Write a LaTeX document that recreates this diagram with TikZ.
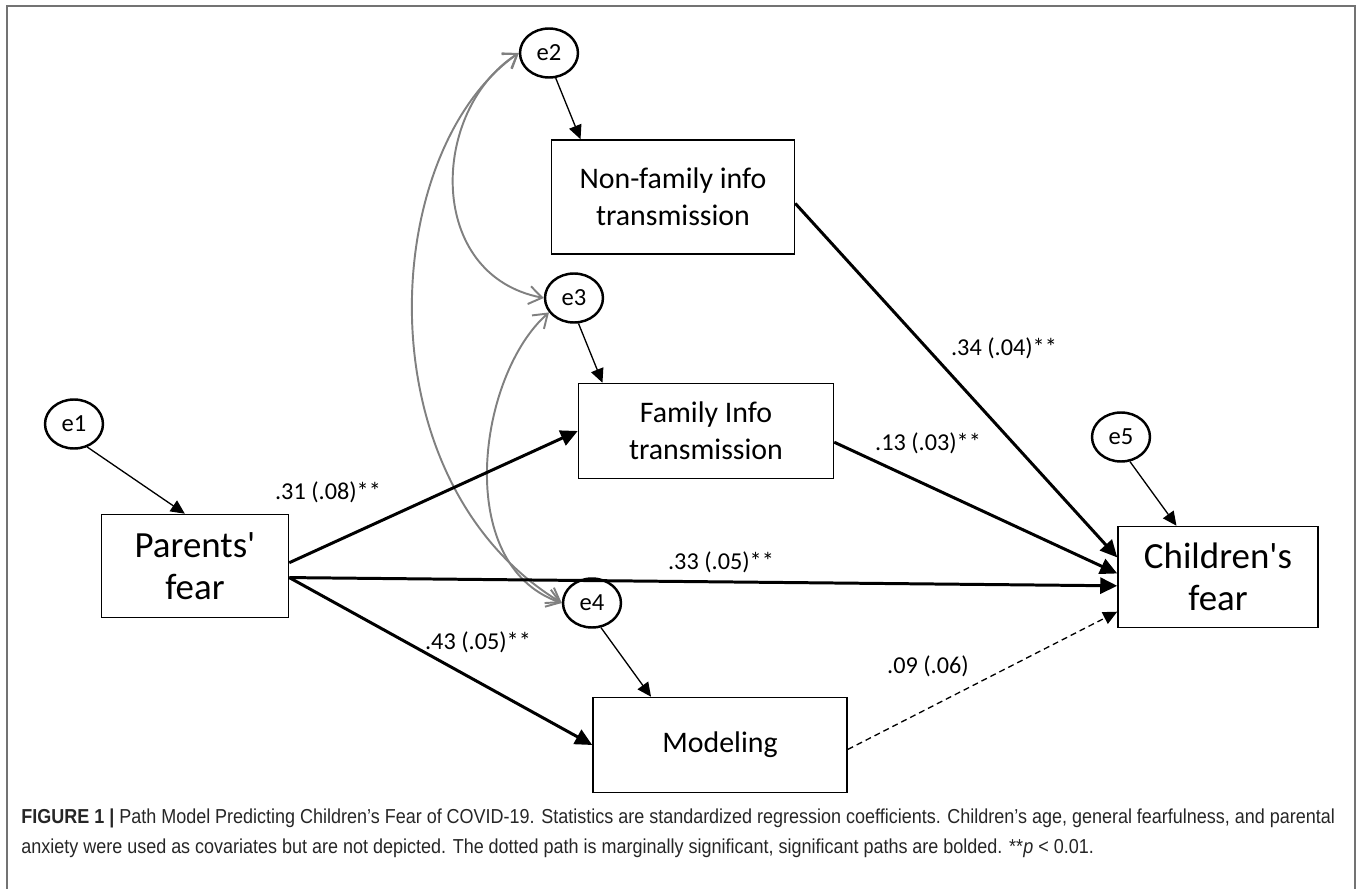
\documentclass[tikz,border=0pt]{standalone}
\usepackage{fontspec}
\setmainfont{Carlito}
\newfontfamily\capfont[FakeStretch=0.89]{Liberation Sans}
\usetikzlibrary{arrows.meta,shapes.geometric}
\begin{document}
\begin{tikzpicture}[
  x=0.02cm, y=-0.02cm,
  enode/.style={ellipse, draw, line width=1.4pt, minimum width=1.16cm, minimum height=0.98cm, inner sep=0pt, font=\fontsize{14}{16}\selectfont},
  vbox/.style={rectangle, draw, line width=0.9pt, align=center, inner sep=0pt, font=\fontsize{17}{21}\selectfont},
  bigbox/.style={vbox, font=\fontsize{21}{24}\selectfont},
  reg/.style={line width=1.7pt, -{Triangle[length=3.4mm,width=3.2mm]}},
  err/.style={line width=0.75pt, -{Triangle[length=2.8mm,width=2.6mm]}},
  cov/.style={draw=black!50, line width=1.1pt, {Straight Barb[length=2.6mm,width=3.6mm]}-{Straight Barb[length=2.6mm,width=3.6mm]}},
  coef/.style={font=\fontsize{13.8}{16}\selectfont},
  capline/.style={anchor=base west, inner sep=0pt, text=black!85, font=\capfont\fontsize{11.5}{13}\selectfont}
]
  \useasboundingbox (0,0) rectangle (1357,889);
  \draw[black!55, line width=1.1pt] (7,889) -- (7,6) -- (1355,6) -- (1355,889);

  \node[bigbox, minimum width=3.74cm, minimum height=2.06cm] (pf) at (195,566) {Parents\textquotesingle\\fear};
  \node[vbox, minimum width=4.86cm, minimum height=2.28cm] (nf) at (673,197) {Non-family info\\transmission};
  \node[vbox, minimum width=5.10cm, minimum height=1.90cm] (fi) at (706,431) {Family Info\\transmission};
  \node[vbox, minimum width=5.08cm, minimum height=1.90cm] (md) at (720,745) {Modeling};
  \node[bigbox, minimum width=4.00cm, minimum height=2.02cm] (cf) at (1218,577) {Children\textquotesingle s\\fear};

  \node[enode] (e1) at (74,424) {e1};
  \node[enode] (e2) at (549,53) {e2};
  \node[enode] (e3) at (574,298) {e3};
  \node[enode] (e4) at (592,603) {e4};
  \node[enode] (e5) at (1121,437) {e5};

  % covariances between the residuals
  \draw[cov] (e2.west) .. controls (380,150) and (360,480) .. (e4.west);
  \draw[cov] (e2.west) .. controls (430,110) and (425,275) .. (e3.west);
  \draw[cov] (e3.210) .. controls (478,375) and (452,565) .. (e4.west);

  % residual paths
  \draw[err] (e1.-60) -- (pf.101);
  \draw[err] (e2.-75) -- (nf.148);
  \draw[err] (e3.-80) -- (fi.155);
  \draw[err] (e4.-70) -- (md.145);
  \draw[err] (e5.-70) -- (cf.129);

  % regression paths
  \draw[reg] (pf.2) -- (fi.west);
  \draw[reg] (pf.-7) -- (cf.185);
  \draw[reg] (pf.-7) -- (md.west);
  \draw[reg] (nf.-3) -- (cf.169);
  \draw[reg] (fi.-5) -- (cf.178);
  \draw[err, dashed, dash pattern=on 3.4pt off 2.3pt] (md.-2) -- (cf.199);

  \node[coef] (b31) at (328,492) {.31 (.08)**};
  \node[coef] (b34) at (1004,348) {.34 (.04)**};
  \node[coef] (b13) at (928,443) {.13 (.03)**};
  \node[coef] (b33) at (721,562) {.33 (.05)**};
  \node[coef] (b43) at (478,642) {.43 (.05)**};
  \node[coef] (b09) at (928,666) {.09 (.06)};

  \node[capline] (cap1) at (21,823) {\textbf{FIGURE 1 |} Path Model Predicting Children’s Fear of COVID-19. Statistics are standardized regression coefficients. Children’s age, general fearfulness, and parental};
  \node[capline] (cap2) at (21,853) {anxiety were used as covariates but are not depicted. The dotted path is marginally significant, significant paths are bolded. **\textit{p} < 0.01.};
\end{tikzpicture}
\end{document}
